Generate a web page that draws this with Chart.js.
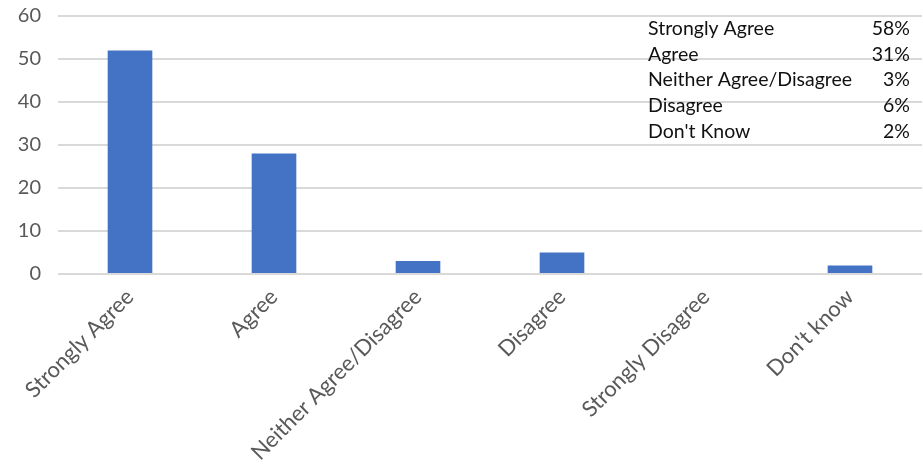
<!DOCTYPE html>
<html>
<head>
<meta charset="utf-8">
<script src="https://cdn.jsdelivr.net/npm/chart.js@4"></script>
<style>
html,body{margin:0;padding:0;background:#fff;}
#wrap{position:relative;width:923px;height:470px;}
</style>
</head>
<body>
<div id="wrap"><canvas id="c" width="923" height="470"></canvas></div>
<script>
const categories = ["Strongly Agree","Agree","Neither Agree/Disagree","Disagree","Strongly Disagree","Don't know"];
const counts = [52,28,3,5,0,2];
const yTicks = [0,10,20,30,40,50,60];
const tableLabels = ["Strongly Agree","Agree","Neither Agree/Disagree","Disagree","Don't Know"];
const tablePercents = ["58%","31%","3%","6%","2%"];

const FONT = "Lato, 'Open Sans', sans-serif";

const tablePlugin = {
  id: 'table',
  afterDraw(chart) {
    const ctx = chart.ctx;
    ctx.save();
    ctx.font = "19.5px " + FONT;
    ctx.fillStyle = "#111";
    ctx.textBaseline = "middle";
    const y0 = 29, dy = 25.6;
    tableLabels.forEach((t, i) => {
      ctx.textAlign = "left";
      ctx.fillText(t, 648, y0 + i * dy);
      ctx.textAlign = "right";
      ctx.fillText(tablePercents[i], 910, y0 + i * dy);
    });
    ctx.restore();
  }
};

new Chart(document.getElementById('c'), {
  type: 'bar',
  data: {
    labels: categories,
    datasets: [{
      data: counts,
      backgroundColor: '#4472C4',
      borderWidth: 0,
      barPercentage: 0.62,
      categoryPercentage: 0.5
    }]
  },
  options: {
    responsive: false,
    animation: false,
    layout: { padding: { top: 16, right: 1, left: 0, bottom: 0 } },
    plugins: { legend: { display: false }, tooltip: { enabled: false } },
    scales: {
      x: {
        grid: { display: false },
        border: { display: false },
        ticks: {
          color: '#595959',
          font: { size: 22, family: FONT },
          minRotation: 45, maxRotation: 45,
          padding: 2
        },
        afterFit(scale) { scale.height = 196; scale.paddingTop = 0; scale.paddingBottom = 0; }
      },
      y: {
        min: 0, max: 60,
        afterBuildTicks(scale) { scale.ticks = yTicks.map(v => ({ value: v })); },
        grid: { color: '#d9d9d9', lineWidth: 2, drawTicks: false },
        border: { display: false },
        ticks: {
          color: '#595959',
          font: { size: 20, family: FONT },
          padding: 17
        },
        afterFit(scale) { scale.width = 58; scale.paddingTop = 0; scale.paddingBottom = 0; }
      }
    }
  },
  plugins: [tablePlugin]
});
</script>
</body>
</html>
